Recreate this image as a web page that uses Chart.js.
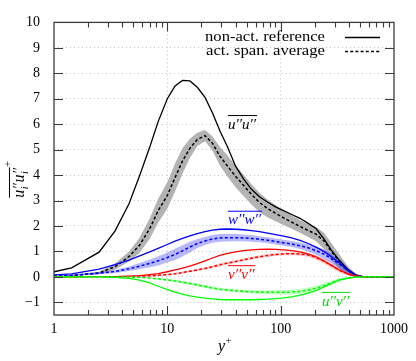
<!DOCTYPE html>
<html><head><meta charset="utf-8">
<script src="https://cdn.jsdelivr.net/npm/chart.js@4/dist/chart.umd.min.js"></script>
<style>html,body{margin:0;padding:0;background:#fff}</style>
</head><body>
<canvas id="c" width="416" height="361"></canvas>
<script>
// ---------- data ----------
const yPlus = [1, 1.43, 2.5, 3.45, 4.6, 5.7, 7, 8.3, 10, 11.7, 13.6, 15.8, 18.4, 21.5, 25, 29, 34, 40, 47, 55, 65, 77, 90, 106, 125, 148, 175, 205, 240, 280, 330, 390, 460, 540, 1000];

const uuRef   = [0.2, 0.35, 0.97, 1.8, 2.88, 3.98, 5.1, 6.1, 7.0, 7.5, 7.72, 7.7, 7.45, 7.05, 6.45, 5.75, 5.1, 4.35, 3.85, 3.45, 3.15, 2.93, 2.75, 2.6, 2.45, 2.3, 2.1, 1.9, 1.5, 1.05, 0.65, 0.3, 0.08, 0, 0];
const uuAvg   = [0.02, 0.05, 0.15, 0.4, 0.8, 1.25, 1.9, 2.6, 3.2, 3.9, 4.55, 5.05, 5.4, 5.55, 5.25, 4.75, 4.35, 3.95, 3.6, 3.25, 2.92, 2.68, 2.5, 2.32, 2.15, 1.98, 1.82, 1.68, 1.42, 1.0, 0.6, 0.25, 0.05, 0, 0];
const uuAvgLo = [0.01, 0.03, 0.10, 0.28, 0.60, 0.95, 1.50, 2.13, 2.68, 3.35, 4.05, 4.67, 5.14, 5.33, 4.97, 4.39, 3.93, 3.52, 3.18, 2.85, 2.54, 2.33, 2.18, 2.04, 1.89, 1.73, 1.57, 1.40, 1.10, 0.67, 0.32, 0.07, -0.02, -0.01, 0];
const uuAvgHi = [0.03, 0.07, 0.20, 0.52, 1.00, 1.55, 2.30, 3.07, 3.72, 4.45, 5.05, 5.43, 5.66, 5.77, 5.53, 5.11, 4.77, 4.38, 4.02, 3.65, 3.30, 3.03, 2.82, 2.60, 2.41, 2.23, 2.07, 1.96, 1.74, 1.33, 0.88, 0.43, 0.12, 0.01, 0];

const wwRef   = [0.08, 0.12, 0.3, 0.48, 0.66, 0.82, 0.98, 1.12, 1.27, 1.4, 1.51, 1.61, 1.7, 1.78, 1.84, 1.87, 1.88, 1.87, 1.85, 1.82, 1.78, 1.72, 1.66, 1.6, 1.53, 1.43, 1.31, 1.17, 1.0, 0.8, 0.54, 0.28, 0.06, 0, 0];
const wwAvg   = [0.03, 0.06, 0.14, 0.21, 0.32, 0.42, 0.53, 0.63, 0.76, 0.88, 1.02, 1.17, 1.31, 1.41, 1.49, 1.53, 1.54, 1.54, 1.53, 1.51, 1.48, 1.44, 1.39, 1.34, 1.29, 1.22, 1.14, 1.03, 0.9, 0.72, 0.5, 0.25, 0.05, 0, 0];
const wwAvgLo = [0.02, 0.04, 0.10, 0.15, 0.23, 0.30, 0.38, 0.45, 0.56, 0.66, 0.80, 0.96, 1.13, 1.25, 1.34, 1.38, 1.39, 1.40, 1.40, 1.38, 1.36, 1.32, 1.27, 1.22, 1.17, 1.09, 1.00, 0.87, 0.72, 0.54, 0.34, 0.14, 0.01, -0.01, 0];
const wwAvgHi = [0.04, 0.08, 0.18, 0.27, 0.41, 0.54, 0.68, 0.81, 0.96, 1.10, 1.24, 1.38, 1.49, 1.57, 1.64, 1.68, 1.69, 1.68, 1.66, 1.64, 1.60, 1.56, 1.51, 1.46, 1.41, 1.35, 1.28, 1.19, 1.08, 0.90, 0.66, 0.36, 0.09, 0.01, 0];

const vvRef   = [0, 0, 0.005, 0.01, 0.03, 0.05, 0.09, 0.13, 0.2, 0.27, 0.34, 0.42, 0.52, 0.63, 0.74, 0.84, 0.92, 0.98, 1.03, 1.06, 1.08, 1.09, 1.08, 1.06, 1.03, 0.98, 0.9, 0.79, 0.63, 0.45, 0.27, 0.12, 0.03, 0, 0];
const vvAvg   = [0, 0, 0, 0.005, 0.01, 0.02, 0.04, 0.06, 0.09, 0.12, 0.17, 0.22, 0.27, 0.33, 0.4, 0.47, 0.54, 0.6, 0.67, 0.73, 0.79, 0.84, 0.88, 0.9, 0.91, 0.9, 0.86, 0.76, 0.62, 0.45, 0.26, 0.11, 0.03, 0, 0];
const vvAvgLo = [0, 0, 0, 0, 0, 0.01, 0.02, 0.04, 0.06, 0.09, 0.13, 0.18, 0.22, 0.28, 0.35, 0.41, 0.48, 0.54, 0.61, 0.67, 0.73, 0.78, 0.82, 0.84, 0.85, 0.83, 0.78, 0.67, 0.52, 0.35, 0.17, 0.05, 0, -0.01, 0];
const vvAvgHi = [0, 0, 0, 0.01, 0.02, 0.03, 0.06, 0.08, 0.12, 0.15, 0.21, 0.26, 0.32, 0.38, 0.45, 0.53, 0.60, 0.66, 0.73, 0.79, 0.85, 0.90, 0.94, 0.96, 0.97, 0.97, 0.94, 0.85, 0.72, 0.55, 0.35, 0.17, 0.06, 0.01, 0];

const uvRef   = [0, 0, -0.005, -0.02, -0.06, -0.13, -0.24, -0.37, -0.5, -0.6, -0.68, -0.75, -0.8, -0.84, -0.87, -0.89, -0.9, -0.9, -0.9, -0.9, -0.89, -0.88, -0.86, -0.83, -0.79, -0.72, -0.64, -0.54, -0.4, -0.26, -0.12, -0.05, -0.01, 0, 0];
const uvAvg   = [0, 0, 0, -0.005, -0.01, -0.02, -0.05, -0.08, -0.12, -0.16, -0.21, -0.26, -0.32, -0.38, -0.44, -0.49, -0.52, -0.55, -0.57, -0.59, -0.6, -0.61, -0.61, -0.61, -0.6, -0.57, -0.52, -0.45, -0.35, -0.23, -0.12, -0.05, -0.01, 0, 0];
const uvAvgLo = [0, 0, 0, -0.01, -0.02, -0.03, -0.07, -0.11, -0.16, -0.21, -0.26, -0.32, -0.38, -0.44, -0.50, -0.55, -0.58, -0.61, -0.63, -0.65, -0.67, -0.68, -0.69, -0.69, -0.69, -0.66, -0.62, -0.55, -0.45, -0.32, -0.19, -0.09, -0.03, -0.01, 0];
const uvAvgHi = [0, 0, 0, 0, 0, -0.01, -0.03, -0.05, -0.08, -0.11, -0.16, -0.20, -0.26, -0.32, -0.38, -0.43, -0.46, -0.49, -0.51, -0.53, -0.53, -0.54, -0.53, -0.53, -0.51, -0.48, -0.42, -0.35, -0.25, -0.14, -0.05, -0.01, 0.01, 0.01, 0];

const xTickLabels = [1, 10, 100, 1000];
const yTickLabels = [-1, 0, 1, 2, 3, 4, 5, 6, 7, 8, 9, 10];
const legendLabels = ['non-act. reference', 'act. span. average'];
const curveLabels = [
  {a: 'u', b: 'u', x: 34.3, y: 5.82, color: '#000000'},
  {a: 'w', b: 'w', x: 34.3, y: 2.06, color: '#0000ff'},
  {a: 'v', b: 'v', x: 34.3, y: -0.08, color: '#ff0000'},
  {a: 'u', b: 'v', x: 231, y: -1.13, color: '#00dd00'}
];

// ---------- build datasets ----------
const pts = arr => yPlus.map((x, i) => ({x, y: arr[i]}));
const SERIF = '"Liberation Serif", "DejaVu Serif", serif';
function solid(arr, color) { return {data: pts(arr), borderColor: color, borderWidth: 1.3, fill: false, pointRadius: 0}; }
function dashed(arr, color) { return {data: pts(arr), borderColor: color, borderWidth: 1.5, borderDash: [3, 2.2], fill: false, pointRadius: 0}; }
function bandHi(arr, col) { return {data: pts(arr), borderWidth: 0, borderColor: 'rgba(0,0,0,0)', backgroundColor: col, fill: '+1', pointRadius: 0}; }
function bandLo(arr) { return {data: pts(arr), borderWidth: 0, borderColor: 'rgba(0,0,0,0)', fill: false, pointRadius: 0}; }

const datasets = [
  solid(uvRef, '#00ff00'), dashed(uvAvg, '#00ff00'), bandHi(uvAvgHi, 'rgba(0,255,0,0.25)'), bandLo(uvAvgLo),
  solid(vvRef, '#ff0000'), dashed(vvAvg, '#ff0000'), bandHi(vvAvgHi, 'rgba(255,0,0,0.2)'), bandLo(vvAvgLo),
  solid(wwRef, '#0000ff'), dashed(wwAvg, '#0000ff'), bandHi(wwAvgHi, 'rgba(0,0,255,0.28)'), bandLo(wwAvgLo),
  solid(uuRef, '#000000'), dashed(uuAvg, '#000000'), bandHi(uuAvgHi, 'rgba(160,160,160,0.8)'), bandLo(uuAvgLo)
];

function overPair(ctx, x0, yb, a, b, color, size) {
  ctx.fillStyle = color; ctx.strokeStyle = color;
  ctx.font = 'italic ' + size + 'px ' + SERIF;
  ctx.textAlign = 'left'; ctx.textBaseline = 'alphabetic';
  const s = a + '\u2032\u2032' + b + '\u2032\u2032';
  ctx.fillText(s, x0, yb);
  const w = ctx.measureText(s).width;
  ctx.lineWidth = 1;
  ctx.beginPath(); ctx.moveTo(x0, yb - size * 0.88); ctx.lineTo(x0 + w + 1, yb - size * 0.88); ctx.stroke();
}

function fitText(ctx, s, xRight, yMid, width) {
  const w = ctx.measureText(s).width;
  ctx.save();
  ctx.translate(xRight, yMid);
  ctx.scale(width / w, 1);
  ctx.textAlign = 'right'; ctx.textBaseline = 'middle';
  ctx.fillText(s, 0, 0);
  ctx.restore();
}

const deco = {
  id: 'deco',
  afterDraw(chart) {
    const {ctx, chartArea: A, scales: {x, y}} = chart;
    ctx.save();
    // frame
    ctx.strokeStyle = '#3a3a3a'; ctx.lineWidth = 1.3;
    ctx.strokeRect(A.left, A.top, A.right - A.left, A.bottom - A.top);
    // inward ticks
    ctx.lineWidth = 1.1;
    ctx.beginPath();
    for (const v of yTickLabels) {
      const p = Math.round(y.getPixelForValue(v)) + 0.5;
      if (p <= A.top + 1) continue;
      ctx.moveTo(A.left, p); ctx.lineTo(A.left + 9, p);
      ctx.moveTo(A.right, p); ctx.lineTo(A.right - 9, p);
    }
    for (const d of [1, 10, 100]) {
      for (let k = 1; k <= 9; k++) {
        const v = d * k; if (v === 1) continue;
        const len = k === 1 ? 9 : 5;
        const p = Math.round(x.getPixelForValue(v)) + 0.5;
        ctx.moveTo(p, A.bottom); ctx.lineTo(p, A.bottom - len);
        ctx.moveTo(p, A.top); ctx.lineTo(p, A.top + len);
      }
    }
    ctx.stroke();
    // legend
    ctx.fillStyle = '#000'; ctx.font = '15px ' + SERIF;
    const lx = A.right - 69, ly0 = A.top + 15, ly1 = A.top + 29;
    fitText(ctx, legendLabels[0], lx, ly0, 120);
    fitText(ctx, legendLabels[1], lx, ly1, 119);
    ctx.strokeStyle = '#000'; ctx.lineWidth = 1.5;
    ctx.beginPath(); ctx.moveTo(A.right - 49, ly0); ctx.lineTo(A.right - 14, ly0); ctx.stroke();
    ctx.setLineDash([3, 2.2]);
    ctx.beginPath(); ctx.moveTo(A.right - 49, ly1); ctx.lineTo(A.right - 14, ly1); ctx.stroke();
    ctx.setLineDash([]);
    // curve labels
    for (const L of curveLabels) {
      overPair(ctx, x.getPixelForValue(L.x), y.getPixelForValue(L.y), L.a, L.b, L.color, 15);
    }
    // x title
    ctx.fillStyle = '#000'; ctx.textAlign = 'left'; ctx.textBaseline = 'alphabetic';
    ctx.font = 'italic 16px ' + SERIF;
    const xc = (A.left + A.right) / 2;
    const wy = ctx.measureText('y').width;
    ctx.fillText('y', xc - 6, A.bottom + 36);
    ctx.font = '11px ' + SERIF;
    ctx.fillText('+', xc - 6 + wy + 0.5, A.bottom + 29);
    // y title
    ctx.translate(23.5, (A.top + A.bottom) / 2 + 2);
    ctx.rotate(-Math.PI / 2);
    let cx = -27;
    const part = () => {
      ctx.font = 'italic 16px ' + SERIF;
      ctx.fillText('u', cx, 0); cx += ctx.measureText('u').width;
      const px0 = cx;
      ctx.font = 'italic 14px ' + SERIF;
      ctx.fillText('\u2032\u2032', cx + 0.5, -1);
      const pw = ctx.measureText('\u2032\u2032').width;
      ctx.font = 'italic 10px ' + SERIF;
      ctx.fillText('i', px0 + 0.5, 4);
      cx += Math.max(pw, 5) + 1;
    };
    const startX = cx;
    part(); part();
    ctx.strokeStyle = '#000'; ctx.lineWidth = 1;
    ctx.beginPath(); ctx.moveTo(startX, -14); ctx.lineTo(cx, -14); ctx.stroke();
    ctx.font = '11px ' + SERIF;
    ctx.fillText('+', cx + 0.5, -13);
    ctx.restore();
  }
};

const isDecade = v => Math.abs(Math.log10(v) - Math.round(Math.log10(v))) < 1e-9;

new Chart(document.getElementById('c'), {
  type: 'line',
  data: {datasets},
  options: {
    responsive: false, animation: false, devicePixelRatio: 1,
    layout: {padding: {top: 10, right: 22, left: 0, bottom: 0}},
    plugins: {legend: {display: false}, tooltip: {enabled: false}},
    elements: {point: {radius: 0}, line: {tension: 0}},
    scales: {
      x: {
        type: 'logarithmic', min: 1, max: 1000,
        afterFit: s => { s.height = 46; },
        border: {display: false, dash: [1, 3]},
        grid: {drawTicks: false, lineWidth: 1,
          color: c => (c.tick && (c.tick.value === 10 || c.tick.value === 100)) ? '#c4c4c4' : 'rgba(0,0,0,0)'},
        ticks: {autoSkip: false, maxRotation: 0, padding: 6, color: '#000',
          font: {family: SERIF, size: 14},
          callback: v => (isDecade(v) && xTickLabels.includes(Math.round(v))) ? String(Math.round(v)) : ''}
      },
      y: {
        min: -1.5, max: 10,
        afterFit: s => { s.width = 54; },
        afterBuildTicks: s => { s.ticks = yTickLabels.map(v => ({value: v})); },
        border: {display: false, dash: [1, 3]},
        grid: {drawTicks: false, lineWidth: 1,
          color: c => (c.tick && Number.isInteger(c.tick.value) && c.tick.value < 10) ? '#c4c4c4' : 'rgba(0,0,0,0)'},
        ticks: {padding: 14, color: '#000', font: {family: SERIF, size: 14},
          callback: v => (v < 0 ? '\u2212' + (-v) : String(v))}
      }
    }
  },
  plugins: [deco]
});
</script>
</body></html>
